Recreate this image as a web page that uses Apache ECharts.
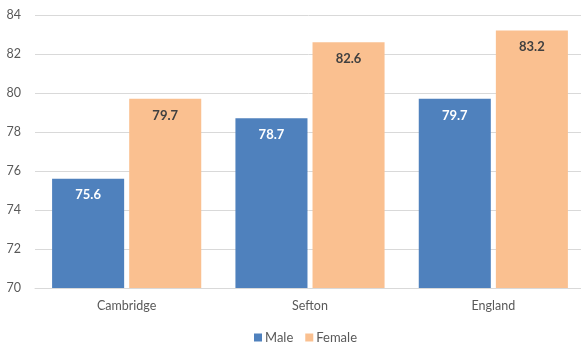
<!DOCTYPE html>
<html>
<head>
<meta charset="utf-8">
<script src="https://cdn.jsdelivr.net/npm/echarts@6/dist/echarts.min.js"></script>
<style>
  html, body { margin: 0; padding: 0; background: #fff; }
  #chart { width: 581px; height: 346px; }
</style>
</head>
<body>
<div id="chart"></div>
<script>
// Life expectancy at birth by area and sex
const categories = ['Cambridge', 'Sefton', 'England'];
const maleValues = [75.6, 78.7, 79.7];
const femaleValues = [79.7, 82.6, 83.2];
const yTicks = [70, 72, 74, 76, 78, 80, 82, 84];

const FONT = 'Lato, "Open Sans", sans-serif';

const labelFmt = p => p.value.toFixed(1);

const chart = echarts.init(document.getElementById('chart'));
chart.setOption({
  animation: false,
  textStyle: { fontFamily: FONT },
  // plot area runs slightly past the right edge of the canvas
  grid: {
    left: 35, width: 550, top: 15, bottom: 58,
    containLabel: false,
    outerBoundsMode: 'none'
  },
  legend: {
    top: 326,
    left: 249,
    itemWidth: 8,
    itemHeight: 8,
    itemGap: 12,
    icon: 'rect',
    textStyle: { color: '#595959', fontSize: 13, fontFamily: FONT, padding: [0, 0, 0, -2] },
    data: ['Male', 'Female']
  },
  xAxis: {
    type: 'category',
    data: categories,
    axisLine: { lineStyle: { color: '#d9d9d9', width: 1 } },
    axisTick: { show: false },
    axisLabel: { color: '#595959', fontSize: 12.5, margin: 11 }
  },
  yAxis: {
    type: 'value',
    min: yTicks[0],
    max: yTicks[yTicks.length - 1],
    interval: 2,
    axisLine: { show: false },
    axisTick: { show: false },
    axisLabel: { color: '#595959', fontSize: 12.5, margin: 14 },
    splitLine: { lineStyle: { color: '#d9d9d9', width: 1 } }
  },
  series: [
    {
      name: 'Male',
      type: 'bar',
      data: maleValues,
      barWidth: '39.3%',
      barGap: '7%',
      itemStyle: { color: '#4f81bd' },
      label: {
        show: true,
        position: 'insideTop',
        distance: 10,
        color: '#ffffff',
        fontWeight: 'bold',
        fontSize: 13,
        formatter: labelFmt
      }
    },
    {
      name: 'Female',
      type: 'bar',
      data: femaleValues,
      barWidth: '39.3%',
      barGap: '7%',
      itemStyle: { color: '#fac090' },
      label: {
        show: true,
        position: 'insideTop',
        distance: 10,
        color: '#404040',
        fontWeight: 'bold',
        fontSize: 13,
        formatter: labelFmt
      }
    }
  ]
});
</script>
</body>
</html>
